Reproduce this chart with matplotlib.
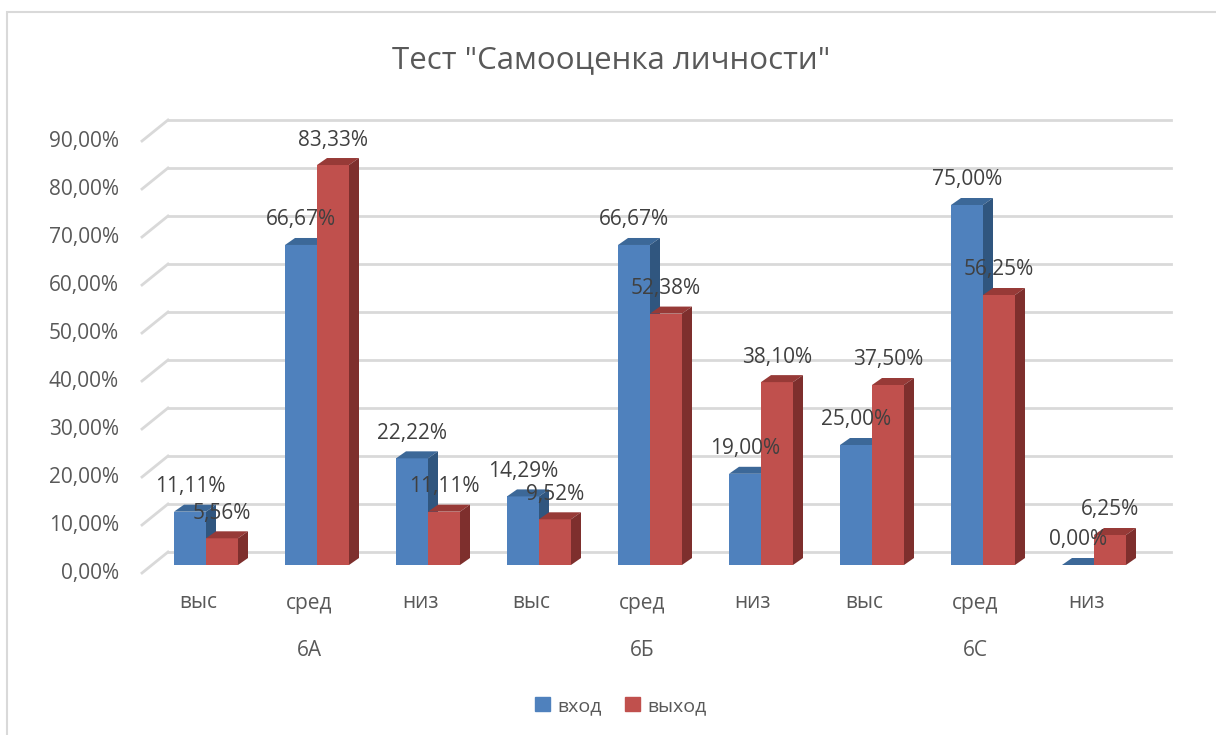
import matplotlib.pyplot as plt
from matplotlib.patches import Patch, Polygon, Rectangle

plt.rcParams['font.family'] = ['Open Sans', 'DejaVu Sans']

# data
levels = ["выс", "сред", "низ", "выс", "сред", "низ", "выс", "сред", "низ"]
groups = ["6А", "6Б", "6С"]
vhod = [11.11, 66.67, 22.22, 14.29, 66.67, 19.00, 25.00, 75.00, 0.00]
vyhod = [5.56, 83.33, 11.11, 9.52, 52.38, 38.10, 37.50, 56.25, 6.25]
yticks = [0, 10, 20, 30, 40, 50, 60, 70, 80, 90]

W, H = 1216, 735
fig = plt.figure(figsize=(W / 100, H / 100), dpi=100)
ax = fig.add_axes([0, 0, 1, 1])
ax.axis('off')

# pixel -> data scale (category step 111 px, 4.8 px per percent)
X0, STEP = 206, 111
Y0, SC = 170, 4.8
ax.set_xlim(-X0 / STEP, (W - X0) / STEP)
ax.set_ylim(-Y0 / SC, (H - Y0) / SC)
px = 1 / STEP
py = 1 / SC

blue, blue_top, blue_side = '#4f81bd', '#3c6898', '#30567f'
red, red_top, red_side = '#c0504d', '#973a37', '#7e2f2d'
grid_c = '#d9d9d9'

# frame
fig.patches.append(Rectangle((7 / W, -0.1), 1.2, 1 - 12 / H + 0.1, transform=fig.transFigure,
                             fill=False, ec=grid_c, lw=1.5))

# walls / gridlines
back_dx, back_dy = 16 * px, 13 * py
front_dx, front_dy = -10 * px, -8 * py
xl = (168 - 16 - X0) * px
xr = (1171 - 16 - X0) * px
for v in yticks:
    ax.plot([xl + back_dx, xr + back_dx], [v + back_dy, v + back_dy], color=grid_c, lw=2, zorder=1)
    ax.plot([xl + back_dx, xl + front_dx], [v + back_dy, v + front_dy], color=grid_c, lw=2, zorder=1)
    ax.text(xl + front_dx - 23 * px, v + front_dy, f"{v:.2f}".replace('.', ',') + '%',
            ha='right', va='center', fontsize=15, color='#595959')

# bars with 3D faces
bw = 32 * px
ddx, ddy = 10 * px, 7 * py


def bar3d(x0, h, c, ct, cs):
    ax.bar(x0, h, width=bw, align='edge', color=c, zorder=3)
    x1 = x0 + bw
    ax.add_patch(Polygon([(x0, h), (x1, h), (x1 + ddx, h + ddy), (x0 + ddx, h + ddy)],
                         closed=True, fc=ct, ec='none', zorder=3))
    ax.add_patch(Polygon([(x1, 0), (x1, h), (x1 + ddx, h + ddy), (x1 + ddx, ddy)],
                         closed=True, fc=cs, ec='none', zorder=3))


for i in range(len(levels)):
    bar3d(i - bw, vhod[i], blue, blue_top, blue_side)
    bar3d(i, vyhod[i], red, red_top, red_side)

for i in range(len(levels)):
    ax.text(i - bw / 2, vhod[i] + 25 * py, f"{vhod[i]:.2f}".replace('.', ',') + '%',
            ha='center', va='center', fontsize=15, color='#404040', zorder=5)
    ax.text(i + bw / 2, vyhod[i] + 25 * py, f"{vyhod[i]:.2f}".replace('.', ',') + '%',
            ha='center', va='center', fontsize=15, color='#404040', zorder=5)
    ax.text(i - 8 * px, -38 * py, levels[i], ha='center', va='center', fontsize=15, color='#595959')

for g, name in enumerate(groups):
    ax.text(3 * g + 1 - 8 * px, -85 * py, name, ha='center', va='center', fontsize=15, color='#595959')

fig.text(611 / W, 1 - 60 / H, 'Тест "Самооценка личности"', ha='center', va='center',
         fontsize=22.5, color='#595959')

handles = [Patch(color=blue, label='вход'), Patch(color=red, label='выход')]
fig.legend(handles=handles, loc='center', bbox_to_anchor=(621 / W, 1 - 706 / H), ncol=2,
           frameon=False, fontsize=14, handlelength=0.75, handleheight=0.75,
           handletextpad=0.4, columnspacing=1.2, labelcolor='#595959')

fig.savefig('out.png', dpi=100)
